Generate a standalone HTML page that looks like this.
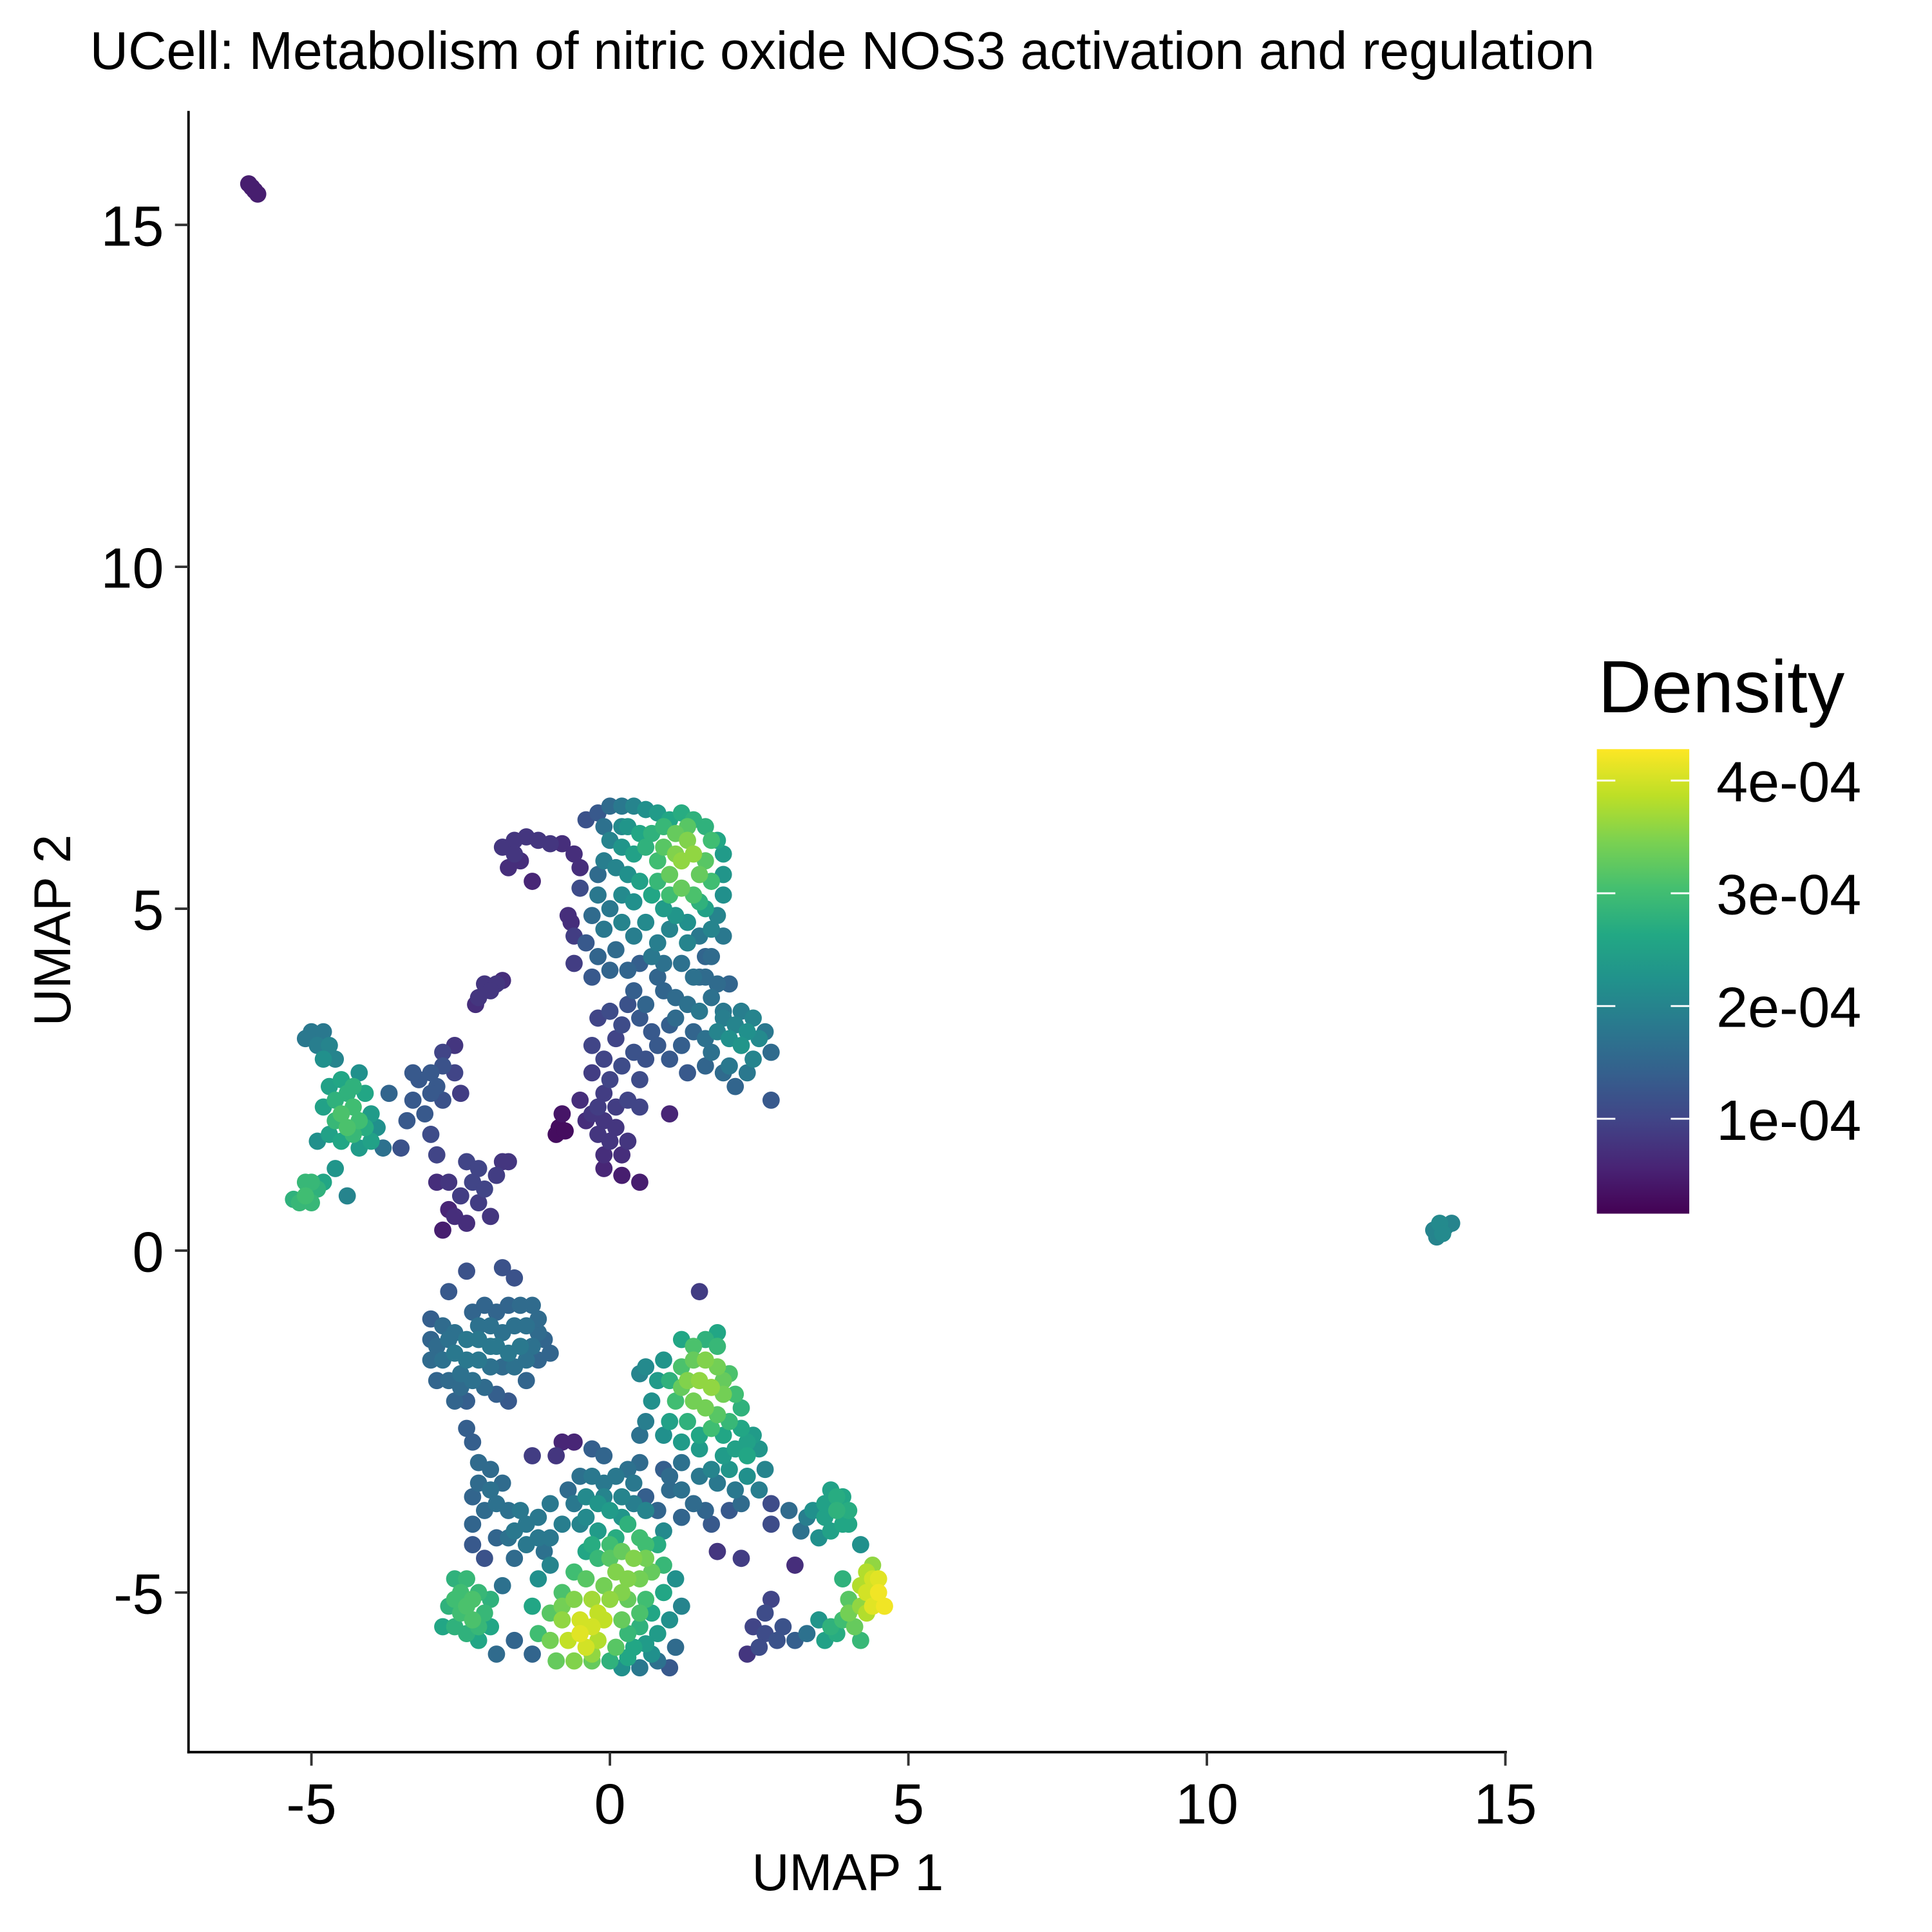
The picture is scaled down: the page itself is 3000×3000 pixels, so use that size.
<!DOCTYPE html>
<html>
<head>
<meta charset="utf-8">
<style>
html,body{margin:0;padding:0;background:#fff;}
svg{display:block;}
text{font-family:"Liberation Sans",Arial,sans-serif;fill:#000;}
</style>
</head>
<body>
<svg id="chart" width="3000" height="3000" viewBox="0 0 1568 1568" xmlns="http://www.w3.org/2000/svg">
  <rect x="0" y="0" width="1568" height="1568" fill="#fff"/>
  <text x="73" y="56" font-size="43">UCell: Metabolism of nitric oxide NOS3 activation and regulation</text>
  <g id="points"></g>
  <g id="axes"></g>
  <text x="688" y="1534" font-size="42" text-anchor="middle">UMAP 1</text>
  <text x="0" y="0" font-size="42" text-anchor="middle" transform="translate(57,755) rotate(-90)">UMAP 2</text>
  <text x="1297" y="578" font-size="60">Density</text>
  <defs>
    <linearGradient id="vir" x1="0" y1="1" x2="0" y2="0">
      <stop offset="0" stop-color="#440154"/><stop offset="0.1" stop-color="#482475"/>
      <stop offset="0.2" stop-color="#414487"/><stop offset="0.3" stop-color="#355f8d"/>
      <stop offset="0.4" stop-color="#2a788e"/><stop offset="0.5" stop-color="#21918c"/>
      <stop offset="0.6" stop-color="#22a884"/><stop offset="0.7" stop-color="#44bf70"/>
      <stop offset="0.8" stop-color="#7ad151"/><stop offset="0.9" stop-color="#bddf26"/>
      <stop offset="1" stop-color="#fde725"/>
    </linearGradient>
  </defs>
  <rect x="1296" y="608" width="75" height="377" fill="url(#vir)"/>
  <g id="legend"></g>
</svg>
<script>
// Axis tick values
const xTicks = [-5, 0, 5, 10, 15];
const yTicks = [-5, 0, 5, 10, 15];
const xTickLabels = ["-5", "0", "5", "10", "15"];
const yTickLabels = ["-5", "0", "5", "10", "15"];
const legendTicks = [1, 2, 3, 4];
const legendTickLabels = ["1e-04", "2e-04", "3e-04", "4e-04"];
const densityMin = 0.16, densityMax = 4.28; // in units of 1e-4

// Cells: [UMAP1, UMAP2, density (1e-4)]
const cellsIsolated = [[-6.05,15.6,0.5],[-5.95,15.5,0.5],[-6.0,15.55,0.5],[-5.9,15.45,0.5],
[13.8,0.3,2],[13.9,0.4,2.1],[14.0,0.35,2],[14.1,0.4,2],[13.85,0.2,2],[13.95,0.25,2.1]];
const cellsLeft = [[-5.0,3.2,1.8],[-4.8,3.2,1.8],[-4.9,3.0,1.9],[-4.7,3.0,2],[-4.6,2.8,2],[-5.1,3.1,1.8],[-4.5,2.5,2.6],[-4.4,2.3,2.8],[-4.3,2.1,3],[-4.5,2.0,3.1],[-4.2,1.9,3],[-4.4,1.8,3.1],[-4.6,1.9,2.9],[-4.3,1.7,2.9],[-4.1,1.8,2.7],[-4.0,2.0,2.4],[-3.9,1.8,2.2],[-4.7,2.4,2.5],[-4.8,2.1,2.5],[-4.1,2.3,2.6],[-3.7,2.3,1.5],[-3.8,1.5,1.7],[-4.2,1.5,2.4],[-4.5,1.6,2.6],[-4.6,1.2,2.3],[-4.8,1.0,2.6],[-5.0,1.0,2.9],[-5.1,0.8,3],[-5.2,0.7,2.9],[-5.0,0.7,2.9],[-5.3,0.75,2.8],[-4.9,0.9,2.8],[-4.4,0.8,2],[-4.9,1.6,2.2],[-4.2,2.6,2.2],
[-3.2,2.5,1.3],[-3.0,2.6,1.3],[-2.8,2.7,1.2],[-2.9,2.4,1.3],[-3.3,2.2,1.3],[-3.1,2.0,1.3],[-3.4,1.9,1.3],[-2.8,2.9,1],[-2.6,2.6,1],[-2.6,3.0,0.8],[-2.8,2.2,1.2],[-3.5,1.5,1.2],[-3.0,1.7,1.1],[-2.5,2.3,0.9],[-2.9,1.4,1],
[-2.4,1.3,1],[-2.3,1.0,1],[-2.1,0.9,1],[-2.2,1.2,1],[-1.9,1.1,0.9],[-1.7,1.3,0.8],[-2.5,0.8,0.9],[-2.2,0.7,0.9],[-2.0,0.5,0.8],[-2.6,0.5,0.7],[-2.7,1.0,0.8],[-2.9,1.0,0.7],[-1.8,1.3,0.8],[-2.4,0.4,0.7],[-2.7,0.6,0.6],[-2.8,0.3,0.5],
[-2.1,3.9,0.8],[-1.9,3.9,0.8],[-2.2,3.7,0.8],[-2.0,3.8,0.8],[-1.8,3.95,0.7],[-2.25,3.6,0.7]];
const cellsUpper = [[-1.8,5.9,0.8],[-1.6,6.0,0.8],[-1.4,6.05,0.8],[-1.2,6.0,0.8],[-1.0,5.95,0.8],[-0.8,5.95,0.7],[-1.6,5.8,0.8],[-1.5,5.7,0.7],[-1.7,5.6,0.7],[-0.6,5.8,0.7],[-1.3,5.4,0.6],[-0.5,5.6,0.7],
[-0.4,6.3,1.2],[-0.2,6.4,1.3],[0,6.5,1.6],[0.2,6.5,1.8],[0.4,6.5,2],[0.6,6.45,2.2],[0.8,6.4,2.4],[1.0,6.3,2.6],[1.2,6.4,2.7],[1.4,6.3,2.8],[1.6,6.2,2.8],[1.8,6.0,2.6],[1.9,5.8,2.4],[1.9,5.5,2.3],[1.9,5.2,2.2],[1.8,4.9,2],[1.9,4.6,1.8],[1.6,5.0,2.5],[1.4,5.2,3.1],[1.2,5.3,3.3],[1.0,5.5,3.3],[1.2,5.7,3.6],[1.4,5.8,3.6],[1.3,6.0,3.5],[1.1,6.1,3.3],[0.9,5.9,3.2],[0.8,5.7,3],[0.6,5.9,2.8],[0.5,6.1,2.6],[0.3,6.2,2.3],[0.2,5.9,2.3],[0.0,6.0,2],[-0.1,5.7,1.9],[0.1,5.6,2],[0.3,5.5,2.2],[0.5,5.4,2.5],[0.7,5.2,2.6],[0.9,5.0,2.4],[1.1,4.9,2.3],[1.3,4.8,2.2],[1.5,4.6,1.8],[1.7,4.3,1.6],[1.5,5.5,3.3],[1.6,5.7,3.2],[0.7,6.1,2.8],[-0.2,5.2,1.8],[0,5.0,1.8],[-0.3,4.9,1.6],[-0.1,4.7,1.8],[0.2,4.8,2],[0.4,4.6,1.9],[0.6,4.8,2.1],[0.1,4.4,1.6],[-0.2,4.3,1.5],[-0.4,4.5,1.3],[0.3,4.1,1.5],[0.0,4.1,1.5],[-0.3,4.0,1.3],[-0.6,4.6,0.9],[-0.6,4.2,0.9],[0.5,4.2,1.4],[0.8,4.5,1.9],[1.0,4.7,2],
[0.4,3.8,1.4],[0.6,3.6,1.5],[0.9,3.8,1.5],[1.1,3.7,1.6],[1.3,3.6,1.7],[1.5,3.5,1.8],[1.7,3.7,1.7],[1.9,3.5,1.8],[2.1,3.3,2],[2.3,3.2,2.2],[2.5,3.1,2.1],[2.2,3.0,2.3],[2.0,3.1,2.2],[1.8,3.2,2],[2.4,2.8,2],[2.6,3.2,1.8],[2.3,2.6,1.8],[2.0,2.7,1.8],[2.7,2.9,1.6],[1.6,3.1,1.7],[1.4,3.2,1.5],[1.2,3.0,1.4],[1.0,3.3,1.4],[0.7,3.2,1.3],[0.5,3.4,1.3],[0.3,3.6,1.2],[0.0,3.5,1.1],[-0.2,3.4,1.0],[0.1,3.1,1.0],[-0.1,2.8,1.0],[0.2,2.7,1.1],[0.4,2.9,1.2],[0.6,2.8,1.2],[1.0,2.8,1.3],[1.3,2.6,1.3],[1.6,2.7,1.5],[1.9,2.6,1.6],[2.1,2.4,1.5],[2.7,2.2,1.3],[1.5,4.0,1.6],[1.8,3.9,1.6],[2.0,3.9,1.5],[-0.3,2.6,0.9],[-0.1,2.3,0.9],[0.1,2.1,0.9],[-0.3,2.0,0.8],[-0.1,1.9,0.8],[0.1,1.8,0.8],[-0.2,1.7,0.8],[0.0,1.6,0.8],[0.3,2.2,1],[0.5,2.1,1],[0.3,1.6,0.8],[-0.5,2.2,0.7],[-0.4,1.9,0.7],[0.2,1.4,0.7],[-0.1,1.4,0.7],[-0.8,2.0,0.4],[-0.85,1.8,0.3],[-0.9,1.7,0.3],[-0.75,1.75,0.3],[-0.1,1.2,0.6],[0.2,1.1,0.5],[0.5,1.0,0.5],[1.0,2.0,0.6],[-0.7,4.9,0.7],[-0.65,4.8,0.7],[1.6,4.3,1.5],[1.6,4.0,1.6],[0.8,4.0,1.5],[-0.5,5.3,1.1],[-0.2,5.5,1.6]];
const cellsLower = [[-2.4,-0.3,1.2],[-1.8,-0.25,1.2],[-1.6,-0.4,1.2],[-2.3,-0.9,1.5],[-2.1,-0.8,1.5],[-1.9,-0.9,1.5],[-1.7,-0.8,1.5],[-1.5,-0.8,1.6],[-1.3,-0.8,1.6],[-2.0,-1.1,1.7],[-1.8,-1.2,1.7],[-1.6,-1.1,1.7],[-1.4,-1.1,1.7],[-1.2,-1.2,1.6],[-1.3,-1.4,1.7],[-1.1,-1.3,1.5],[-1.5,-1.4,1.8],[-1.7,-1.5,1.8],[-1.9,-1.4,1.8],[-2.2,-1.3,1.8],[-2.4,-1.3,1.8],[-2.6,-1.2,1.7],[-2.8,-1.1,1.6],[-3.0,-1.0,1.4],[-2.9,-1.4,1.6],[-3.0,-1.6,1.6],[-2.8,-1.6,1.7],[-2.6,-1.5,1.8],[-2.4,-1.6,1.8],[-2.2,-1.6,1.8],[-2.0,-1.7,1.7],[-1.8,-1.7,1.6],[-1.4,-1.6,1.7],[-1.2,-1.6,1.5],[-1.4,-1.9,1.5],[-2.9,-1.9,1.5],[-2.7,-1.9,1.6],[-2.5,-2.0,1.6],[-2.3,-1.9,1.7],[-2.1,-2.0,1.6],[-1.9,-2.1,1.4],[-1.7,-2.2,1.3],[-2.6,-2.2,1.5],[-2.4,-2.2,1.4],[-3.0,-1.3,1.5],[-2.7,-0.6,1.3],
[-2.4,-2.6,1.4],[-2.3,-2.8,1.4],[-2.2,-3.1,1.6],[-2.0,-3.2,1.6],[-2.2,-3.4,1.6],[-2.0,-3.5,1.7],[-1.8,-3.4,1.6],[-1.9,-3.7,1.7],[-2.1,-3.8,1.6],[-2.3,-3.6,1.5],[-1.7,-3.8,1.7],[-1.6,-4.1,1.8],[-1.4,-4.0,1.8],[-1.2,-3.9,1.8],[-1.2,-4.2,1.8],[-1.4,-4.3,1.8],[-1.1,-4.4,1.7],[-1.6,-4.5,1.6],[-2.3,-4.0,1.5],[-2.3,-4.3,1.3],[-1.9,-4.2,1.5],[-1.3,-3.0,0.9],[-0.8,-2.8,0.6],[-0.6,-2.8,0.6],[-0.9,-3.0,0.8],[-2.1,-4.5,1.2],
[-0.7,-3.5,1.6],[-0.5,-3.3,1.7],[-0.3,-3.3,1.8],[-0.1,-3.4,1.8],[0.1,-3.3,1.8],[0.3,-3.2,1.7],[0.5,-3.1,1.6],[-0.6,-3.7,1.8],[-0.4,-3.6,2.1],[-0.2,-3.7,2.3],[0,-3.8,2.4],[0.2,-3.6,2],[0.4,-3.7,1.9],[0.6,-3.8,2],[-0.5,-4.0,2],[-0.2,-4.1,2.4],[0.1,-4.2,2.7],[0.3,-4.0,2.8],[0.5,-4.2,3],[0.8,-4.3,2.7],[0.2,-4.4,3.3],[0.4,-4.5,3.5],[0.6,-4.5,3.4],[0,-4.5,3.2],[-0.2,-4.5,2.9],[-0.4,-4.4,2.6],[0.1,-4.7,3.5],[0.3,-4.8,3.5],[0.5,-4.8,3.4],[0.7,-4.7,3.3],[0.9,-4.6,2.9],[-0.1,-4.9,3.4],[-0.4,-4.8,3.2],[-0.6,-4.7,3],[-0.8,-5.0,3.1],[-0.6,-5.1,3.5],[-0.3,-5.1,3.7],[0,-5.1,3.6],[0.3,-5.1,3.3],[0.6,-5.1,3.0],[0.9,-5.0,2.6],[1.0,-5.4,2.2],[1.2,-5.2,2],[-1.0,-5.3,3.2],[-0.8,-5.4,3.6],[-0.5,-5.4,4],[-0.3,-5.5,4],[-0.1,-5.4,3.9],[0.2,-5.4,3.3],[0.5,-5.5,2.8],[0.8,-5.6,2.4],[-1.2,-5.6,3.0],[-1.0,-5.7,3.4],[-0.7,-5.7,3.9],[-0.4,-5.8,4],[-0.2,-5.7,3.8],[0.1,-5.8,3.2],[0.4,-5.8,2.6],[0.7,-5.9,2.2],[-0.9,-6.0,3.3],[-0.6,-6.0,3.5],[-0.3,-6.0,3.3],[0,-6.0,2.8],[0.2,-6.1,2.2],[0.5,-6.1,1.8],[0.8,-6.0,1.7],[1.0,-6.1,1.3],[-1.3,-5.2,2.6],[-1.2,-4.8,2.2],[-1.0,-4.6,2],[1.1,-4.8,2.2],[0.9,-4.1,2.1],[1.0,-3.5,1.6],[0.9,-3.2,1.4],[1.1,-5.8,1.6],[-0.1,-3.0,1.5],[-0.3,-2.9,1.4],
[-2.6,-4.8,2.8],[-2.4,-4.8,2.9],[-2.5,-5.0,3],[-2.3,-5.1,3.1],[-2.7,-5.2,2.8],[-2.5,-5.3,3],[-2.3,-5.4,3.1],[-2.1,-5.3,2.9],[-2.4,-5.6,2.8],[-2.2,-5.7,2.6],[-2.0,-5.5,2.6],[-2.8,-5.5,2.6],[-1.9,-5.9,1.6],[-1.6,-5.7,1.5],[-1.8,-4.9,1.7],[-1.3,-5.9,1.5],[-2.2,-5.0,2.9],[-2.6,-5.5,2.8]];
const cellsRightLower = [[1.5,-0.6,0.9],[1.6,-1.3,2.8],[1.8,-1.4,2.9],[1.2,-1.3,2.6],[1.4,-1.6,3.3],[1.6,-1.6,3.5],[1.8,-1.7,3.4],[2.0,-1.8,3.1],[1.2,-1.7,3.1],[1.0,-1.9,2.8],[1.3,-1.9,3.5],[1.5,-1.9,3.6],[1.7,-2.0,3.6],[1.9,-2.1,3.4],[2.1,-2.1,3],[1.1,-2.2,3],[1.4,-2.2,3.4],[1.6,-2.3,3.4],[1.8,-2.4,3.2],[2.0,-2.5,2.9],[0.8,-1.9,2.4],[0.6,-1.7,2.1],[0.9,-1.6,2.3],[0.7,-2.2,2.2],[1.0,-2.5,2.5],[1.3,-2.5,2.8],[0.6,-2.5,1.9],[0.5,-2.7,1.7],[0.9,-2.7,2.2],[1.5,-2.7,2.6],[2.2,-2.6,2.6],[2.4,-2.7,2.4],[2.1,-2.9,2.5],[2.3,-3.0,2.6],[2.5,-2.9,2.3],[1.9,-3.0,2.4],[2.0,-3.2,2.3],[2.3,-3.3,2.2],[2.6,-3.2,2],[2.5,-3.5,1.9],[2.1,-3.5,1.8],[1.8,-3.4,1.8],[1.5,-3.3,1.8],[1.2,-3.1,1.7],[1.0,-3.3,1.6],[1.2,-3.5,1.7],[1.4,-3.7,1.6],[1.6,-3.8,1.5],[1.2,-3.9,1.5],[0.8,-3.8,1.5],[0.6,-3.6,1.4],[1.7,-4.0,1.3],[2.0,-3.8,1.3],[2.7,-3.7,1.1],[1.8,-4.4,0.8],[0.5,-1.8,2],[1.8,-1.2,2.6],[1.5,-2.9,2.4],
[3.7,-3.5,2.5],[3.9,-3.6,2.6],[3.8,-3.8,2.8],[4.0,-3.8,2.7],[3.6,-3.9,2.5],[3.4,-3.8,2.2],[3.7,-4.1,2.5],[3.9,-4.0,2.6],[3.5,-4.2,2.2],[3.3,-3.9,1.9],[3.0,-3.8,1.6],[3.2,-4.1,1.7],[4.2,-4.3,2.2],[4.4,-4.6,3.6],[4.4,-4.8,4],[4.5,-5.0,4.2],[4.3,-5.0,4],[4.2,-4.9,3.8],[4.6,-5.2,4.2],[4.4,-5.2,4.1],[4.2,-5.2,3.6],[4.0,-5.1,3.2],[3.9,-4.8,2.8],[4.1,-5.5,3.3],[3.9,-5.4,3],[3.7,-5.5,2.8],[3.5,-5.4,2.3],[3.6,-5.7,2.5],[3.8,-5.6,2.7],[4.2,-5.7,2.9],[3.3,-5.6,1.7],[3.1,-5.7,1.4],[2.8,-5.7,1.2],[2.6,-5.6,1.1],[2.5,-5.8,1.1],[2.9,-5.5,1.2],[2.6,-5.3,1.1],[2.4,-5.5,1],[2.7,-5.1,1],[2.3,-5.9,0.8],[3.1,-4.6,0.7],[2.2,-4.5,0.9],[2.7,-4.0,1.1]];
const cellsExtra = [[0.9,6.2,2.9],[1.3,6.2,3.2],[1.7,6.0,3],[1.7,5.4,3],[1.5,5.1,2.8],[1.0,5.2,3],[1.1,5.8,3.5],[0.8,5.4,2.9],[0.4,5.8,2.5],[0.2,6.2,2.1],[-0.1,6.2,1.7],[0.4,5.1,2.2],[0.2,5.2,2.1],[1.3,4.5,2],[1.7,4.7,2],[0.7,4.3,1.8],[0.9,4.2,1.7],[1.2,4.2,1.7],[1.4,4.0,1.7],[1.1,3.4,1.6],[1.9,3.4,1.9],[2.2,3.5,1.9],[2.4,3.4,2],[1.7,2.9,1.7],[0.8,3.0,1.3],[0.2,3.3,1.1],[-0.3,3.0,1],[0,2.5,1],[0.5,2.5,1.1],[-0.2,2.1,0.9],
[-4.6,2.2,2.8],[-4.3,2.4,2.8],[-4.0,1.6,2.5],[-4.7,1.7,2.5],[-5.1,1.0,2.9],[-4.8,2.8,2.2],[-3.3,2.6,1.3],[-3.0,2.3,1.3],
[-2.0,-1.4,1.8],[-1.6,-1.7,1.7],[-2.5,-1.8,1.7],[-2.7,-1.3,1.7],[-1.2,-1.0,1.6],[-1.0,-1.5,1.5],[-2.2,-1.1,1.7],
[0,-4.3,3],[-0.3,-4.3,2.7],[0.6,-4.3,3],[0.2,-5.0,3.5],[0.5,-5.3,3.1],[-0.2,-5.3,3.9],[-0.5,-5.6,4.1],[-0.8,-5.2,3.4],[-0.3,-5.9,3.6],[0.3,-5.6,2.9],[0.7,-5.3,2.6],[0.3,-5.95,2.6],[0.6,-5.75,2.4],[-0.1,-3.6,2],[0.4,-3.4,1.8],[-0.4,-3.9,2.1],[0.2,-3.9,2.3],[-1.0,-3.7,1.8],[-0.8,-4.0,1.9],[-1.5,-3.8,1.8],[-1.0,-4.2,1.8],[-1.7,-4.2,1.7],
[1.4,-1.4,3.1],[1.9,-1.9,3.3],[1.2,-2.0,3.3],[1.7,-2.6,3],[2.2,-2.3,2.8],[2.3,-2.8,2.5],[1.9,-2.7,2.6],[1.2,-2.8,2.4],[1.7,-3.2,2],[2.2,-3.7,1.6],
[4.3,-4.7,3.8],[4.5,-4.8,4.1],[4.3,-5.3,3.8],[4.0,-5.3,3.4],[3.8,-3.6,2.7],[3.6,-3.7,2.5],[4.0,-4.0,2.6],
[-2.4,-5.2,3.1],[-2.6,-5.1,3],[-2.2,-5.5,2.9],[-2.0,-5.1,2.8]];

const NS = "http://www.w3.org/2000/svg";
const xScale = v => 495 + v * 48.45;
const yScale = v => 1015 - v * 55.5;
const legendScale = v => 908 - (v - 1) * 91.5;

const vStops = ["#440154","#482475","#414487","#355f8d","#2a788e","#21918c","#22a884","#44bf70","#7ad151","#bddf26","#fde725"];
function hex(h){return [parseInt(h.substr(1,2),16),parseInt(h.substr(3,2),16),parseInt(h.substr(5,2),16)];}
function viridis(t){
  t = Math.max(0, Math.min(1, t));
  const p = t * 10, i = Math.min(9, Math.floor(p)), f = p - i;
  const a = hex(vStops[i]), b = hex(vStops[i+1]);
  return "rgb(" + a.map((c,k)=>Math.round(c+(b[k]-c)*f)).join(",") + ")";
}

const ptsG = document.getElementById('points');
const all = [].concat(cellsIsolated, cellsLeft, cellsUpper, cellsLower, cellsRightLower, cellsExtra);
all.slice().sort((a,b)=>a[2]-b[2]).forEach(c => {
  const el = document.createElementNS(NS, 'circle');
  el.setAttribute('cx', xScale(c[0]));
  el.setAttribute('cy', yScale(c[1]));
  el.setAttribute('r', 7);
  el.setAttribute('fill', viridis((c[2]-densityMin)/(densityMax-densityMin)));
  
  
  ptsG.appendChild(el);
});

const ax = document.getElementById('axes');
function add(tag, attrs, parent, text){
  const el = document.createElementNS(NS, tag);
  for (const k in attrs) el.setAttribute(k, attrs[k]);
  if (text !== undefined) el.textContent = text;
  parent.appendChild(el);
  return el;
}
let e;
e = add('line', {x1:153,y1:90,x2:153,y2:1423,stroke:'#000','stroke-width':2}, ax);


e = add('line', {x1:152,y1:1422,x2:1223,y2:1422,stroke:'#000','stroke-width':2}, ax);


xTicks.forEach((v,i) => {
  const x = xScale(v);
  e = add('line', {x1:x,y1:1422,x2:x,y2:1433,stroke:'#333','stroke-width':2}, ax);
  
  
  e = add('text', {x:x,y:1480,'font-size':46,'text-anchor':'middle'}, ax, xTickLabels[i]);
  
  
});
yTicks.forEach((v,i) => {
  const y = yScale(v);
  e = add('line', {x1:142,y1:y,x2:153,y2:y,stroke:'#333','stroke-width':2}, ax);
  
  
  e = add('text', {x:133,y:y+17,'font-size':46,'text-anchor':'end'}, ax, yTickLabels[i]);
  
  
});
const lg = document.getElementById('legend');
legendTicks.forEach((v,i) => {
  const y = legendScale(v);
  e = add('line', {x1:1296,y1:y,x2:1311,y2:y,stroke:'#fff','stroke-width':1.5}, lg);
  
  
  e = add('line', {x1:1356,y1:y,x2:1371,y2:y,stroke:'#fff','stroke-width':1.5}, lg);
  
  
  e = add('text', {x:1393,y:y+17,'font-size':46}, lg, legendTickLabels[i]);
  
  
});
</script>
</body>
</html>
